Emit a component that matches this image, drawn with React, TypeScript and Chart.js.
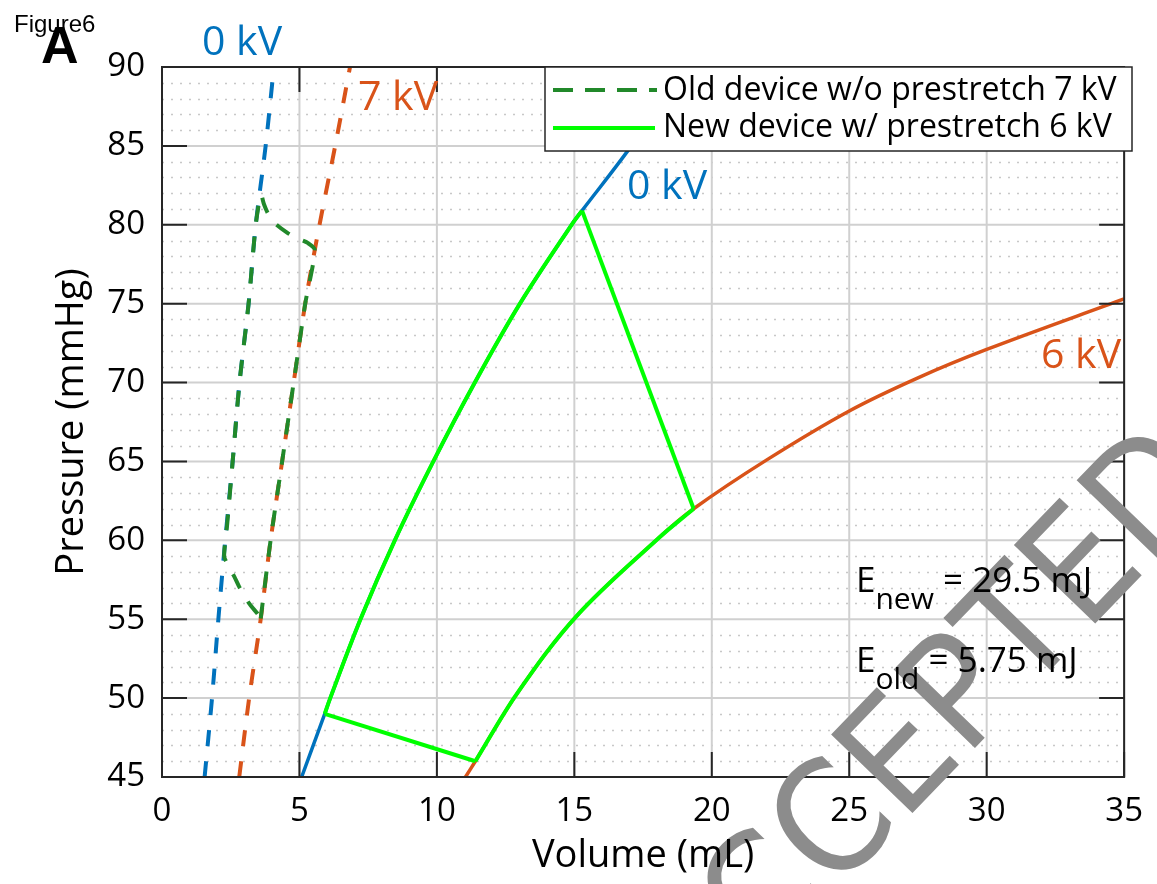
import React, { useEffect, useRef } from "react";
import { Chart, registerables } from "chart.js";

Chart.register(...registerables);

// ---------- data ----------
const pressureSteps = [45, 50, 55, 60, 65, 70, 75, 80, 85, 90];
const old0kVVolume = [1.55, 1.82, 2.05, 2.3, 2.57, 2.82, 3.15, 3.41, 3.77, 4.07];
const old7kVVolume = [2.81, 3.17, 3.59, 3.95, 4.37, 4.79, 5.21, 5.73, 6.3, 6.84];

const oldLoopVolume = [3.59, 3.95, 4.37, 4.79, 5.21, 5.56, 5.3, 4.97, 4.55, 4.01, 3.83, 3.71, 3.6, 3.41, 3.15, 2.82, 2.57, 2.37, 2.26, 2.35, 2.5, 2.63, 2.81, 3.17, 3.47, 3.59];
const oldLoopPressure = [55.05, 60, 65, 70, 75, 78.4, 78.85, 79.1, 79.5, 80.25, 80.8, 81.3, 81.9, 80, 75, 70, 65, 61, 59.0, 58.6, 58.1, 57.7, 57.05, 56.0, 55.36, 55.05];

const new0kVVolume = [5.08, 5.92, 6.12, 7.22, 8.47, 9.87, 11.38, 13.02, 14.9, 15.28, 16.95, 19.1];
const new0kVPressure = [45, 49, 50, 55, 60, 65, 70, 75, 80, 80.9, 84.7, 90];

const new6kVVolume = [11.04, 11.4, 12.92, 15.08, 18.04, 19.34, 22.0, 25.0, 27.5, 30.0, 35.0];
const new6kVPressure = [45, 46, 50.3, 55.2, 60.1, 62, 65.1, 68.2, 70.3, 72.1, 75.3];

const greenLeftVolume = [5.92, 6.12, 7.22, 8.47, 9.87, 11.38, 13.02, 14.9, 15.28];
const greenLeftPressure = [49, 50, 55, 60, 65, 70, 75, 80, 80.9];
const greenTopVolume = [15.28, 19.34];
const greenTopPressure = [80.9, 62.0];
const greenRightVolume = [19.34, 18.04, 15.08, 12.92, 11.4];
const greenRightPressure = [62.0, 60.1, 55.2, 50.3, 46];
const greenBottomVolume = [11.4, 5.92];
const greenBottomPressure = [46.0, 49.0];

const xTicks = [0, 5, 10, 15, 20, 25, 30, 35];
const yTicks = [45, 50, 55, 60, 65, 70, 75, 80, 85, 90];
const legendLabels = ["Old device w/o prestretch 7 kV", "New device w/ prestretch 6 kV"];

// ---------- styles ----------
const BLUE = "#0072BD";
const ORANGE = "#D95319";
const OLD_GREEN = "#21892a";
const NEW_GREEN = "#00FF00";
const FONT = "'Open Sans', 'Noto Sans', sans-serif";

const pts = (xs: number[], ys: number[]) => xs.map((x, i) => ({ x, y: ys[i] }));

function lineDs(data: any[], color: string, dashed: boolean, tension: number, width = 4) {
  return {
    data,
    showLine: true,
    borderColor: color,
    backgroundColor: color,
    borderWidth: width,
    borderDash: dashed ? [16, 15] : [],
    pointRadius: 0,
    tension,
    fill: false,
    borderCapStyle: "butt",
    borderJoinStyle: "round",
  };
}

const decorPlugin = {
  id: "decor",
  beforeDraw(chart: any) {
    const ctx = chart.ctx;
    ctx.save();
    ctx.fillStyle = "#fff";
    ctx.fillRect(0, 0, chart.width, chart.height);
    ctx.restore();
  },
  beforeDatasetsDraw(chart: any) {
    const ctx = chart.ctx;
    const { left, right, top, bottom } = chart.chartArea;
    const xs = chart.scales.x;
    const ys = chart.scales.y;
    ctx.save();
    ctx.strokeStyle = "rgb(200,200,200)";
    ctx.lineWidth = 1.5;
    ctx.setLineDash([2, 7]);
    for (let p = 46; p < 90; p++) {
      if (p % 5 === 0) continue;
      const y = Math.round(ys.getPixelForValue(p)) + 0.5;
      ctx.beginPath();
      ctx.moveTo(left, y);
      ctx.lineTo(right, y);
      ctx.stroke();
    }
    ctx.setLineDash([]);
    ctx.strokeStyle = "rgb(208,208,208)";
    ctx.lineWidth = 2;
    for (const v of xTicks) {
      const x = xs.getPixelForValue(v);
      ctx.beginPath();
      ctx.moveTo(x, top);
      ctx.lineTo(x, bottom);
      ctx.stroke();
    }
    for (const p of yTicks) {
      const y = ys.getPixelForValue(p);
      ctx.beginPath();
      ctx.moveTo(left, y);
      ctx.lineTo(right, y);
      ctx.stroke();
    }
    ctx.restore();
  },
  afterDatasetsDraw(chart: any) {
    const ctx = chart.ctx;
    const { left, right, top, bottom } = chart.chartArea;
    const xs = chart.scales.x;
    const ys = chart.scales.y;
    ctx.save();
    ctx.strokeStyle = "#262626";
    ctx.lineWidth = 2;
    ctx.strokeRect(left, top, right - left, bottom - top);
    const tl = 25;
    ctx.beginPath();
    for (const v of xTicks) {
      const x = xs.getPixelForValue(v);
      ctx.moveTo(x, bottom);
      ctx.lineTo(x, bottom - tl);
      ctx.moveTo(x, top);
      ctx.lineTo(x, top + tl);
    }
    for (const p of yTicks) {
      const y = ys.getPixelForValue(p);
      ctx.moveTo(left, y);
      ctx.lineTo(left + tl, y);
      ctx.moveTo(right, y);
      ctx.lineTo(right - tl, y);
    }
    ctx.stroke();

    // curve labels
    ctx.textBaseline = "alphabetic";
    ctx.textAlign = "left";
    ctx.font = `41px ${FONT}`;
    ctx.fillStyle = BLUE;
    ctx.fillText("0 kV", 202, 55);
    ctx.fillText("0 kV", 627, 199);
    ctx.fillStyle = ORANGE;
    ctx.fillText("7 kV", 358, 110);
    ctx.fillText("6 kV", 1041, 368);

    // legend
    const lx0 = 545, ly0 = 67, lx1 = 1132, ly1 = 151;
    ctx.fillStyle = "#fff";
    ctx.fillRect(lx0, ly0, lx1 - lx0, ly1 - ly0);
    ctx.strokeStyle = "#262626";
    ctx.lineWidth = 1.5;
    ctx.strokeRect(lx0, ly0, lx1 - lx0, ly1 - ly0);
    ctx.lineWidth = 4;
    ctx.strokeStyle = OLD_GREEN;
    ctx.setLineDash([20, 12]);
    ctx.beginPath();
    ctx.moveTo(553, 90);
    ctx.lineTo(657, 90);
    ctx.stroke();
    ctx.setLineDash([]);
    ctx.strokeStyle = NEW_GREEN;
    ctx.beginPath();
    ctx.moveTo(553, 128);
    ctx.lineTo(655, 128);
    ctx.stroke();
    ctx.fillStyle = "#000";
    ctx.font = `32px ${FONT}`;
    ctx.fillText(legendLabels[0], 663, 100);
    ctx.fillText(legendLabels[1], 663, 137);

    // watermark
    ctx.save();
    ctx.font = "155px 'DejaVu Sans', sans-serif";
    const word = "ACCEPTED";
    const wPre = ctx.measureText("ACCEP").width;
    const wT = ctx.measureText("T").width;
    ctx.translate(1015, 626);
    ctx.rotate((-46 * Math.PI) / 180);
    ctx.scale(0.92, 1);
    ctx.fillStyle = "rgb(140,140,140)";
    const bx = -(wPre + wT / 2);
    const by = 56;
    ctx.fillText(word, bx, by);
    ctx.restore();

    // energy annotations
    ctx.fillStyle = "#000";
    const drawE = (sub: string, rest: string, x: number, base: number) => {
      ctx.font = `35px ${FONT}`;
      ctx.fillText("E", x, base);
      const wE = ctx.measureText("E").width;
      ctx.font = `30px ${FONT}`;
      ctx.fillText(sub, x + wE, base + 17);
      const wS = ctx.measureText(sub).width;
      ctx.font = `35px ${FONT}`;
      ctx.fillText(rest, x + wE + wS, base);
    };
    drawE("new", " = 29.5 mJ", 856, 592);
    drawE("old", " = 5.75 mJ", 856, 672);

    // axis titles
    ctx.font = `38px ${FONT}`;
    ctx.textAlign = "center";
    ctx.fillText("Volume (mL)", (left + right) / 2, 867);
    ctx.save();
    ctx.translate(83, (top + bottom) / 2);
    ctx.rotate(-Math.PI / 2);
    ctx.fillText("Pressure (mmHg)", 0, 0);
    ctx.restore();

    // x tick labels (drawn above the watermark)
    ctx.font = `33px ${FONT}`;
    ctx.textBaseline = "middle";
    for (const v of xTicks) {
      ctx.fillText(String(v), xs.getPixelForValue(v), 812);
    }

    // figure labels
    ctx.textBaseline = "alphabetic";
    ctx.textAlign = "left";
    ctx.font = "24px 'Liberation Sans', Arial, sans-serif";
    ctx.fillText("Figure6", 14, 32);
    ctx.font = "bold 52px 'Liberation Sans', Arial, sans-serif";
    ctx.fillText("A", 41, 63);
    ctx.restore();
  },
};

export default function App() {
  const ref = useRef<HTMLCanvasElement | null>(null);
  useEffect(() => {
    document.body.style.margin = "0";
    if (!ref.current) return;
    const datasets: any[] = [
      lineDs(pts(oldLoopVolume, oldLoopPressure), OLD_GREEN, true, 0.25),
      lineDs(pts(greenLeftVolume, greenLeftPressure), NEW_GREEN, false, 0.35),
      lineDs(pts(greenTopVolume, greenTopPressure), NEW_GREEN, false, 0),
      lineDs(pts(greenRightVolume, greenRightPressure), NEW_GREEN, false, 0.35),
      lineDs(pts(greenBottomVolume, greenBottomPressure), NEW_GREEN, false, 0),
      lineDs(pts(old0kVVolume, pressureSteps), BLUE, true, 0.3),
      lineDs(pts(old7kVVolume, pressureSteps), ORANGE, true, 0.3),
      lineDs(pts(new0kVVolume, new0kVPressure), BLUE, false, 0.35, 3.5),
      lineDs(pts(new6kVVolume, new6kVPressure), ORANGE, false, 0.35, 3.5),
    ];
    const tickFont = { family: FONT, size: 33 };
    const chart = new Chart(ref.current, {
      type: "scatter",
      data: { datasets },
      options: {
        responsive: false,
        animation: false,
        events: [],
        layout: { padding: { top: 67, right: 24, left: 0, bottom: 0 } },
        plugins: { legend: { display: false }, tooltip: { enabled: false } },
        scales: {
          x: {
            type: "linear",
            min: 0,
            max: 35,
            ticks: { stepSize: 5, font: tickFont, color: "rgba(0,0,0,0)", padding: 14, maxRotation: 0, autoSkip: false },
            grid: { display: false, drawTicks: false },
            border: { display: false },
            afterFit: (s: any) => {
              s.height = 107;
            },
          },
          y: {
            type: "linear",
            min: 45,
            max: 90,
            ticks: { stepSize: 5, font: tickFont, color: "#000", padding: 17, autoSkip: false },
            grid: { display: false, drawTicks: false },
            border: { display: false },
            afterFit: (s: any) => {
              s.width = 162;
            },
          },
        },
      } as any,
      plugins: [decorPlugin],
    });
    return () => chart.destroy();
  }, []);
  return (
    <div style={{ position: "fixed", left: 0, top: 0, width: 1157, height: 884, background: "#fff" }}>
      <canvas ref={ref} width={1157} height={884} style={{ display: "block" }} />
    </div>
  );
}
